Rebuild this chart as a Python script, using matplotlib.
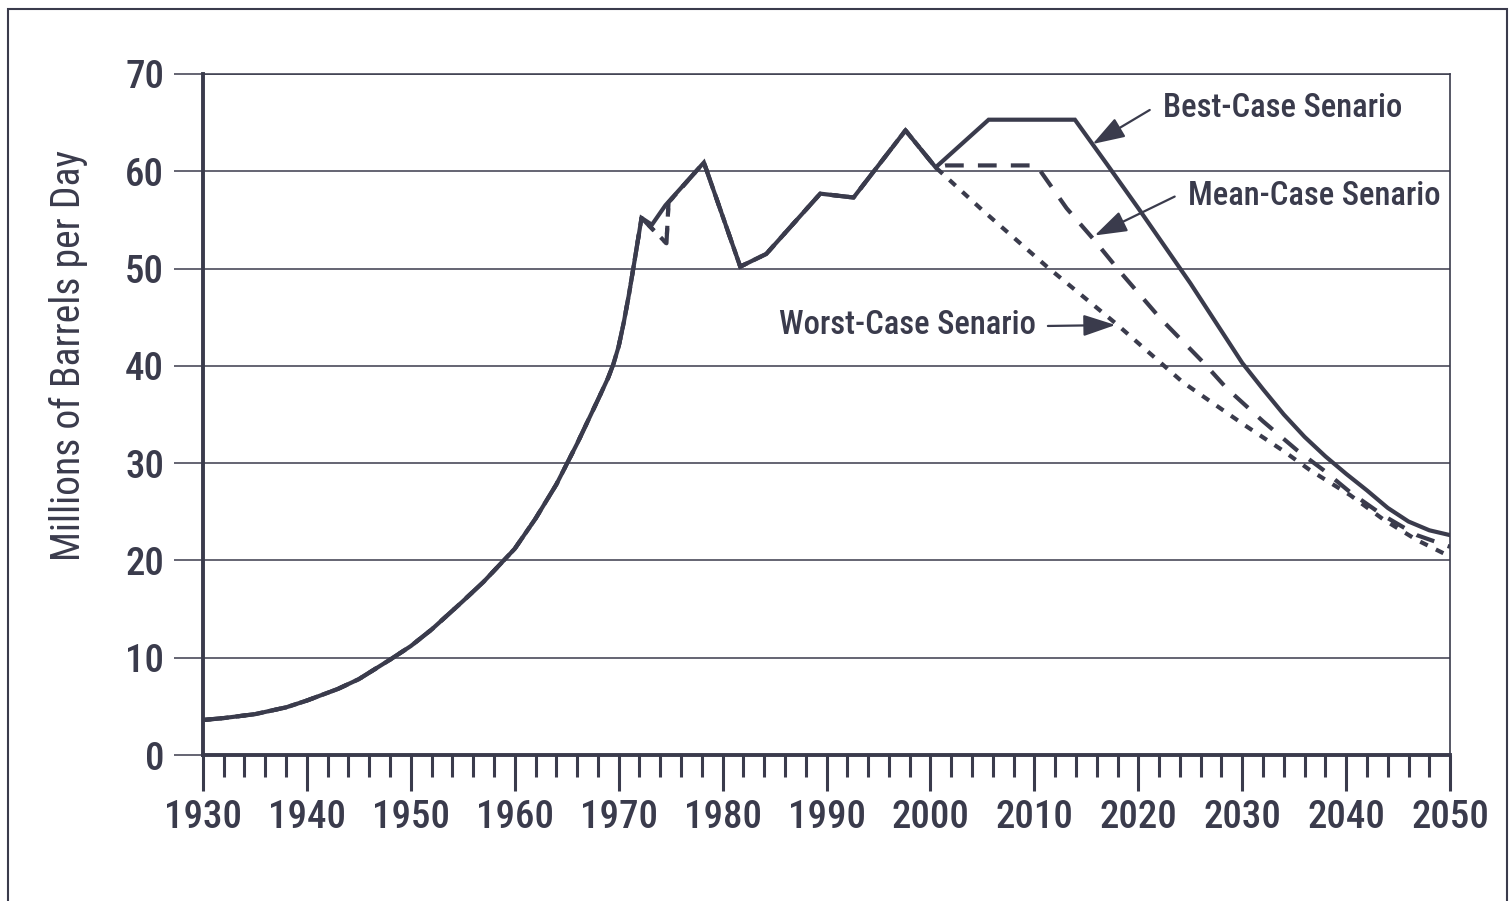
import matplotlib
matplotlib.use("Agg")
import matplotlib.pyplot as plt
from matplotlib import font_manager
from matplotlib.patches import Rectangle
from matplotlib.ticker import MultipleLocator

# Historical production, shared by all three scenarios (millions of barrels per day)
early_years = [1930, 1932, 1935, 1938, 1940, 1943, 1945, 1948, 1950, 1952, 1955, 1957, 1960,
               1962, 1964, 1966, 1968, 1969, 1969.5, 1970, 1970.5, 1971, 1971.5, 1972.2]
early_prod = [3.6, 3.8, 4.2, 4.9, 5.6, 6.8, 7.8, 9.8, 11.2, 12.9, 15.8, 17.8, 21.2,
              24.3, 27.8, 32.0, 36.5, 38.8, 40.2, 42.0, 44.5, 47.4, 50.6, 55.2]

# Around 1973-75 the solid and dashed traces part briefly
solid_70s_years = [1973.2, 1974.5]
solid_70s_prod = [54.5, 56.5]
dash_70s_years = [1974.6, 1974.8]
dash_70s_prod = [52.6, 56.8]

late_years = [1978.2, 1981.7, 1984.2, 1989.4, 1992.6, 1997.6, 2000.5]
late_prod = [60.9, 50.2, 51.5, 57.7, 57.3, 64.2, 60.4]

# Projections
best_years = [2005.6, 2013.9, 2017, 2020, 2025, 2030, 2032, 2034, 2036, 2038, 2040, 2042, 2044, 2046, 2048, 2050]
best_prod = [65.3, 65.3, 60.7, 56.2, 48.5, 40.3, 37.6, 35.0, 32.7, 30.7, 28.9, 27.2, 25.4, 24.0, 23.1, 22.6]

mean_years = [2001.5, 2010.2, 2013.1, 2015.7, 2018.3, 2022.1, 2026.3, 2028.5, 2032, 2035.3, 2037.8, 2040.4, 2043.6, 2046.8, 2050]
mean_prod = [60.6, 60.6, 56.2, 53.0, 49.6, 44.9, 40.3, 37.7, 34.3, 31.3, 29.3, 27.0, 24.6, 22.6, 21.4]

worst_years = [2005, 2011.2, 2017.9, 2024.3, 2030.1, 2033.9, 2036.5, 2040.4, 2043.6, 2046.8, 2050]
worst_prod = [56.0, 50.2, 44.3, 38.3, 34.0, 31.3, 29.3, 26.7, 24.2, 22.1, 20.4]

ink = "#3a3b4c"

# narrow face if one is installed, else shrink DejaVu a bit
names = {f.name for f in font_manager.fontManager.ttflist}
narrow = [n for n in ["Liberation Sans Narrow", "Roboto Condensed", "Open Sans Condensed",
                      "DejaVu Sans Condensed"] if n in names]
if narrow:
    plt.rcParams["font.family"] = [narrow[0], "DejaVu Sans"]
    k = 1.0
else:
    plt.rcParams["font.family"] = ["DejaVu Sans"]
    k = 0.8
plt.rcParams["font.weight"] = "medium"

fig = plt.figure(figsize=(15.11, 9.01), dpi=100)
ax = fig.add_axes([0.1343, 0.162, 0.8254, 0.7559])

best_x = early_years + solid_70s_years + late_years + best_years
best_y = early_prod + solid_70s_prod + late_prod + best_prod
mean_x = early_years + dash_70s_years + late_years + mean_years
mean_y = early_prod + dash_70s_prod + late_prod + mean_prod
worst_x = early_years + dash_70s_years + late_years + worst_years
worst_y = early_prod + dash_70s_prod + late_prod + worst_prod

ax.plot(worst_x, worst_y, color=ink, lw=3.0, dashes=(2.0, 2.2), zorder=3)
ax.plot(mean_x, mean_y, color=ink, lw=3.0, dashes=(4.5, 3.4), zorder=4)
ax.plot(best_x, best_y, color=ink, lw=3.0, zorder=5, solid_joinstyle="miter")

ax.set_xlim(1930, 2050)
ax.set_ylim(0, 70)
ax.set_xticks(range(1930, 2051, 10))
ax.xaxis.set_minor_locator(MultipleLocator(2))
ax.set_yticks(range(0, 71, 10))

ax.grid(axis="y", color=ink, lw=1.1)
ax.set_axisbelow(True)

ax.spines["left"].set_linewidth(2.8)
ax.spines["bottom"].set_linewidth(2.8)
ax.spines["right"].set_linewidth(1.2)
ax.spines["top"].set_linewidth(1.1)
for s in ax.spines.values():
    s.set_color(ink)

ax.tick_params(axis="y", length=21, width=1.1, pad=7, labelsize=28 * k, colors=ink)
ax.tick_params(axis="x", which="major", length=26, width=2.2, pad=6, labelsize=28 * k, colors=ink)
ax.tick_params(axis="x", which="minor", length=16, width=2.2, colors=ink)

ax.set_ylabel("Millions of Barrels per Day", fontsize=28.5 * k, color=ink, va="center")
ax.yaxis.set_label_coords(-0.108, 0.587)

# Scenario labels with arrows
arrow = dict(arrowstyle="-|>,head_length=0.9,head_width=0.3", color=ink, lw=1.6,
             shrinkA=0, shrinkB=0, mutation_scale=22)
ax.annotate("", xy=(2015.6, 62.8), xytext=(2021.1, 66.3), arrowprops=arrow)
ax.text(2022.4, 66.5, "Best-Case Senario", fontsize=23.5 * k, color=ink, ha="left", va="center")

ax.annotate("", xy=(2015.8, 53.4), xytext=(2023.5, 57.4), arrowprops=arrow)
ax.text(2024.8, 57.5, "Mean-Case Senario", fontsize=23.5 * k, color=ink, ha="left", va="center")

ax.annotate("", xy=(2017.8, 44.2), xytext=(2011.3, 44.1), arrowprops=arrow)
ax.text(2010.1, 44.2, "Worst-Case Senario", fontsize=23.5 * k, color=ink, ha="right", va="center")

# Outer frame of the scanned figure
fig.add_artist(Rectangle((8 / 1511, -0.05), 1499 / 1511, 1.05 - 9 / 901,
                         transform=fig.transFigure, fill=False, ec=ink, lw=1.5))

fig.savefig("out.png", dpi=100, facecolor="white")
